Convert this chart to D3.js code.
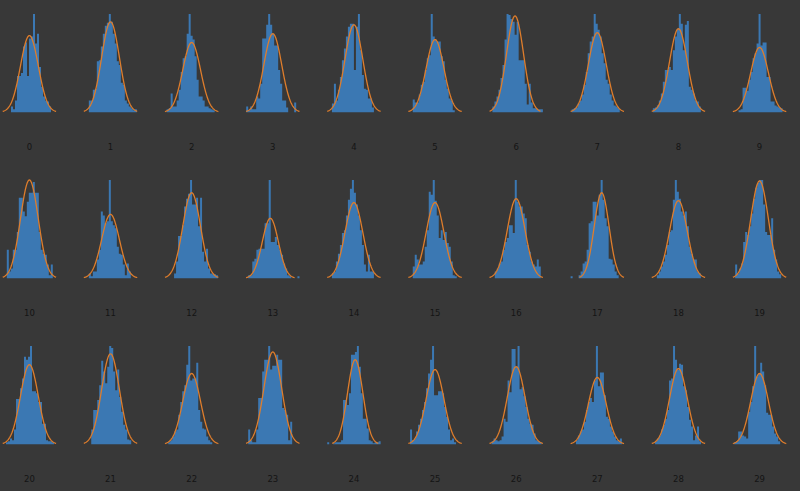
<!DOCTYPE html>
<html><head><meta charset="utf-8">
<script src="https://cdn.jsdelivr.net/npm/d3@7/dist/d3.min.js"></script>
<style>html,body{margin:0;padding:0;background:#383838;}svg{display:block}</style>
</head><body>
<svg id="chart" width="800" height="491"></svg>
<script>
// Panel labels
const panelLabels = ["0","1","2","3","4","5","6","7","8","9",
  "10","11","12","13","14","15","16","17","18","19",
  "20","21","22","23","24","25","26","27","28","29"];

// Histogram bar heights (relative counts), one array per panel; bin width = 1 unit
const histRow0 = [
  [6,3,12,37,37,40,67,71,37,75,77,100,70,80,46,26,16,12,11,6],
  [12,12,23,24,52,53,67,80,88,91,100,92,80,70,52,48,30,28,12,9,6,4,2,3],
  [3,4,19,6,6,12,23,41,55,57,80,100,78,74,57,33,16,16,12,6,6,4,3,2],
  [6,2,6,3,3,16,14,29,75,75,89,100,89,80,68,68,43,29,12,12,5,0,0,0,10],
  [9,29,12,23,36,53,65,77,87,90,90,43,87,100,63,38,24,23,14,14,5],
  [13,10,10,18,28,31,43,55,58,100,77,74,72,72,57,52,33,24,14,12,2],
  [6,11,16,23,35,48,74,100,99,95,92,79,92,53,53,53,29,8,29,10,4,4,3,3,3],
  [3,4,5,9,12,18,28,41,60,72,77,100,90,84,77,60,50,33,29,18,12,7,6,4],
  [4,5,7,12,19,31,43,43,46,43,63,77,85,100,90,63,89,93,26,23,19,12,11,6],
  [2,3,25,25,22,33,41,55,60,70,100,68,71,71,36,36,11,11,7,6,5,4]
];
const histRow1 = [
  [29,7,10,29,29,47,82,82,68,63,78,87,87,98,87,87,47,29,25,24,14,3,14],
  [5,2,7,7,19,29,68,64,56,58,100,58,54,51,32,25,24,14,3,15,7],
  [5,17,43,43,54,73,81,86,100,75,75,82,53,82,27,17,30,10,5,4,4,3],
  [3,3,17,20,29,30,30,30,56,56,100,37,37,42,34,29,24,15,10,3,2,0,0,0,2],
  [5,7,17,25,34,46,49,64,80,91,100,87,75,64,49,34,14,7,24,7,7],
  [12,24,19,14,14,17,32,49,88,85,100,79,64,41,49,39,47,36,32,17,3,2],
  [7,10,15,17,29,37,41,54,54,46,100,78,73,73,66,61,34,27,17,14,12,19,12],
  [2,0,0,0,3,7,15,17,29,56,58,78,78,64,85,100,80,61,53,20,19,14,7,3],
  [3,7,12,17,24,34,47,49,80,100,88,81,68,64,68,53,32,25,19,19,7,5],
  [14,5,10,15,37,47,44,53,66,81,92,97,100,100,75,47,44,44,61,29,19,7,4]
];
const histRow2 = [
  [2,3,6,4,15,46,46,57,67,89,86,89,100,54,54,52,43,43,21,21,4,3,3,2],
  [15,35,35,45,60,85,74,62,79,100,98,74,55,76,48,33,20,15,5,4],
  [2,4,8,13,15,30,43,54,60,81,100,65,67,67,83,35,23,16,15,8,4,2],
  [15,4,2,2,15,47,47,74,86,86,100,76,80,80,91,86,86,37,35,30,4,23],
  [2,0,0,1,2,2,2,4,45,45,40,52,91,91,94,100,79,52,26,26,16,4,3,1,2,2,3],
  [15,4,6,13,20,26,35,43,57,72,86,100,50,50,54,54,52,38,28,15,4,6,2],
  [3,6,4,3,4,8,26,23,65,53,97,97,79,100,56,58,49,38,26,21,20,11,4,3,2],
  [4,9,13,15,23,35,43,47,43,65,100,59,73,73,50,28,26,18,13,8,4,3,6],
  [3,6,9,15,20,26,35,65,67,100,86,76,82,81,59,55,38,25,18,4,9,18,3],
  [2,3,13,13,9,8,6,33,43,59,100,69,72,83,74,60,32,30,30,18,11,8,3]
];

// Fitted normal curve per panel (in bin units / relative count units)
const fitMu = [9.2,10.85,12.5,13.3,11.0,11.15,11.2,12.8,12.8,10.5,
  11.3,10.85,8.8,10.8,11.0,11.15,10.7,15.5,10.8,12.2,
  11.7,9.65,11.7,12.3,14.15,12.5,12.3,10.7,11.7,12.7];
const fitSigma = [4.45,4.45,4.45,4.45,4.45,4.45,4.22,4.45,4.45,4.45,
  4.45,4.45,4.45,3.94,4.45,4.45,4.45,3.72,4.45,4.45,
  4.45,4.45,4.45,4.45,3.89,4.45,4.45,4.45,4.45,4.45];
const fitPeak = [78,92,71,80,89,74,98,81,85,66,
  100,65,87,61,77,77,81,87,79,99,
  81,92,72,94,86,76,79,68,77,72];

const hists = histRow0.concat(histRow1, histRow2);

const svg = d3.select("#chart");
const ncols = 10;
const colLeft0 = 2.7, colStep = 81.13, panelW = 53.4;
const rowTop0 = 14, rowStep = 166, plotH = 98.3;
const barColor = "#3b78b3", lineColor = "#de7d2c";

hists.forEach((counts, i) => {
  const r = Math.floor(i / ncols), c = i % ncols;
  const left = colLeft0 + c * colStep;
  const top = rowTop0 + r * rowStep;
  const base = top + plotH;
  const mu = fitMu[i], s = fitSigma[i], pk = fitPeak[i];
  const lo = mu - 3 * s, hi = mu + 3 * s;
  const n = counts.length;
  const x = d3.scaleLinear().domain([Math.min(0, lo), Math.max(n, hi)]).range([left, left + panelW]);
  const y = d3.scaleLinear().domain([0, Math.max(d3.max(counts), pk)]).range([base, top]);

  const g = svg.append("g");
  const pts = counts.map((v, j) => [j, v]).concat([[n, counts[n - 1]]]);
  const area = d3.area().curve(d3.curveStepAfter)
    .x(d => x(d[0])).y0(base).y1(d => y(d[1]));
  g.append("path").attr("d", area(pts)).attr("fill", barColor);

  const xs = d3.range(0, 121).map(k => lo + (hi - lo) * k / 120);
  const line = d3.line().x(d => x(d)).y(d => y(pk * Math.exp(-((d - mu) ** 2) / (2 * s * s))));
  g.append("path").attr("d", line(xs)).attr("fill", "none")
    .attr("stroke", lineColor).attr("stroke-width", 1.3);

  g.append("text").attr("x", left + panelW / 2).attr("y", base + 35)
    .attr("text-anchor", "middle").attr("dominant-baseline", "middle")
    .attr("font-family", "DejaVu Sans, sans-serif").attr("font-size", 8.5)
    .attr("fill", "#141414").text(panelLabels[i]);
});
</script>
</body></html>
